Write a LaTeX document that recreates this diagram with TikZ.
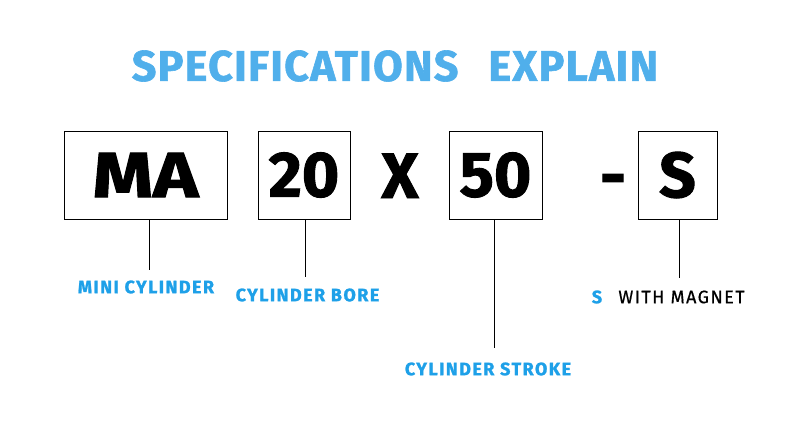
\documentclass[tikz,border=0pt]{standalone}
\usepackage{fontspec}
\setmainfont{Fira Sans}
\newfontfamily\titlefont{Fira Sans}[LetterSpace=3, FakeBold=1.4]
\newfontfamily\heavyfont{Fira Sans}[FakeBold=1.5]
\newfontfamily\notefont{Fira Sans}[LetterSpace=8, FakeBold=1.2]
\newfontfamily\plainfont{Fira Sans}[LetterSpace=8, FakeBold=0.6]
\usepackage{graphicx}
\usepackage{xcolor}
\definecolor{titleblue}{RGB}{80, 175, 235}
\definecolor{labelblue}{RGB}{30, 160, 232}
\usetikzlibrary{positioning}

\begin{document}
\begin{tikzpicture}[x=1pt, y=-1pt]
  \tikzstyle{codebox} = [rectangle, draw, line width=0.9pt, minimum height=88pt, inner sep=0pt, font=\fontsize{64}{64}\heavyfont\bfseries]
  \tikzstyle{bigsign} = [anchor=base, inner sep=0pt, font=\fontsize{64}{64}\heavyfont\bfseries]
  \tikzstyle{note} = [inner sep=0pt, text=labelblue, font=\fontsize{18}{18}\notefont\bfseries]
  \tikzstyle{leader} = [line width=0.9pt]

  \useasboundingbox (0,0) rectangle (790,434);

  \node [inner sep=0pt, text=titleblue, font=\fontsize{43}{43}\titlefont\bfseries] (title) at (395,66) {SPECIFICATIONS\hskip 30pt EXPLAIN};

  \node [codebox, minimum width=163pt] (ma) at (145.5,175) {\scalebox{1.2}[1]{MA}};
  \node [codebox, minimum width=92pt] (bore) at (304,175) {20};
  \node [bigsign] (times) at (400,198) {X};
  \node [codebox, minimum width=93pt] (stroke) at (495.5,175) {50};
  \node [bigsign] (dash) at (613,198) {-};
  \node [codebox, minimum width=79pt] (mag) at (677.5,175) {S};

  \coordinate (maend) at (149,270);
  \coordinate (boreend) at (305,277);
  \coordinate (strokeend) at (494,348);
  \coordinate (magend) at (679,278);

  \draw [leader] (ma.south -| maend) -- (maend);
  \draw [leader] (bore.south -| boreend) -- (boreend);
  \draw [leader] (stroke.south -| strokeend) -- (strokeend);
  \draw [leader] (mag.south -| magend) -- (magend);

  \node [note] (malabel) at (146,287) {MINI CYLINDER};
  \node [note] (borelabel) at (307.5,295) {CYLINDER BORE};
  \node [note] (strokelabel) at (488,369) {CYLINDER STROKE};
  \node [note] (maglabel) at (597,297) {S};
  \node [note, text=black, font=\fontsize{18}{18}\plainfont\mdseries] (magtext) at (681.5,297) {WITH MAGNET};
\end{tikzpicture}
\end{document}
